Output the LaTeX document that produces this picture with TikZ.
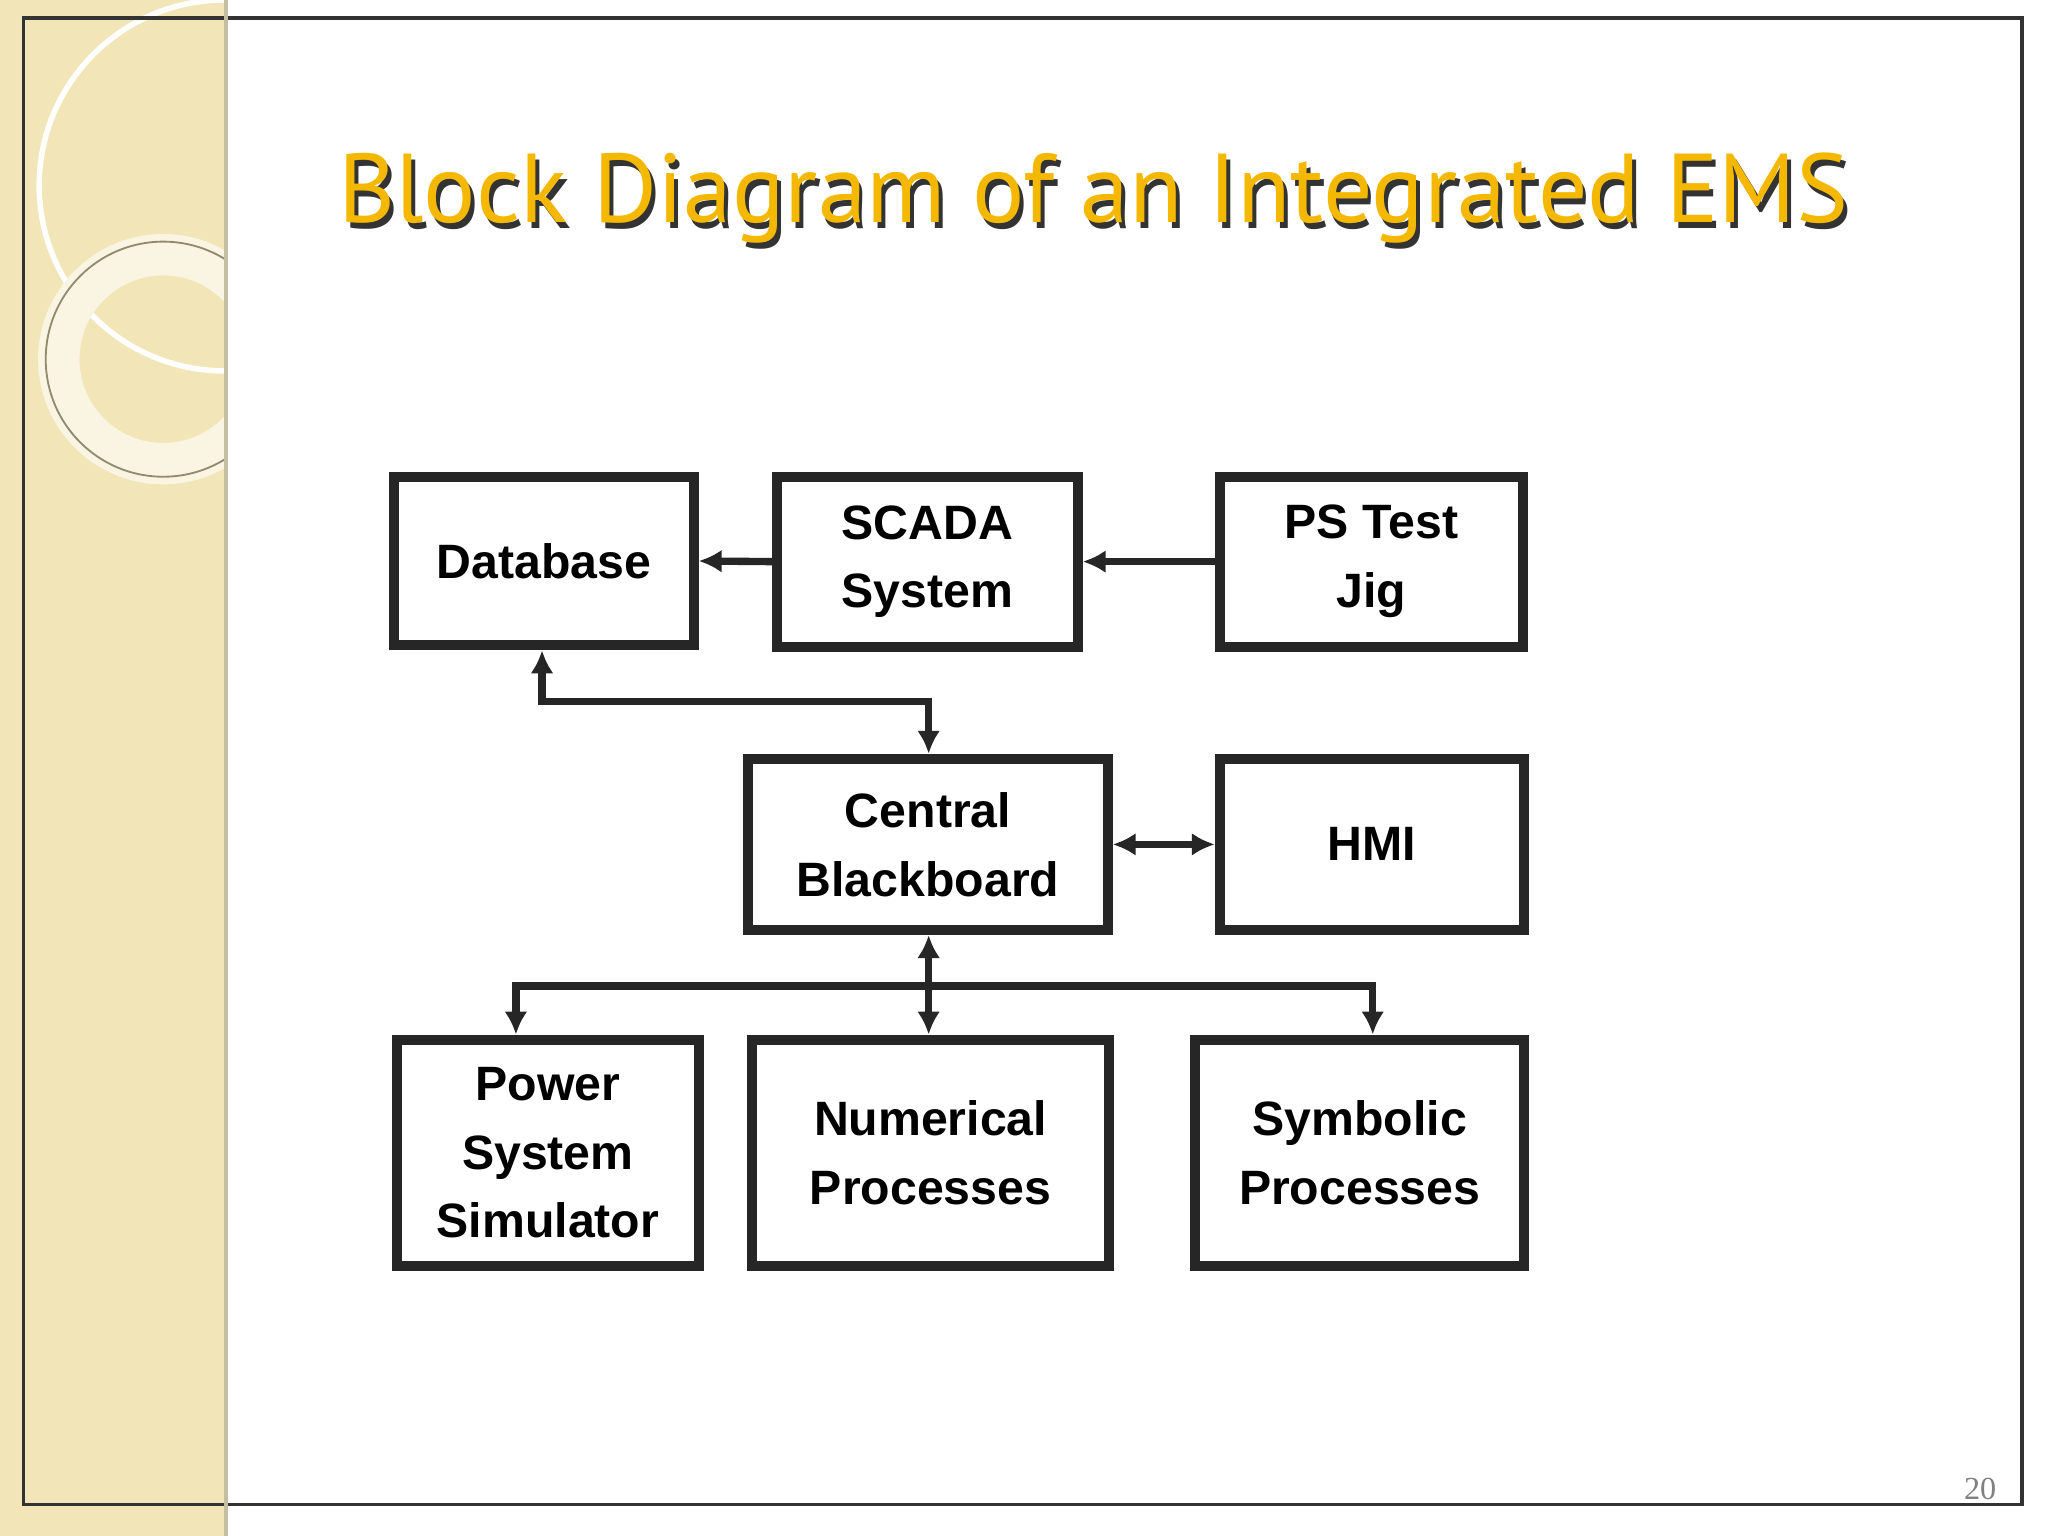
\documentclass[tikz,border=0pt]{standalone}
\usepackage{fontspec}
\setmainfont{Liberation Sans}
\newfontfamily\titlefont{PT Sans}
\newfontfamily\numfont{Liberation Serif}
\usetikzlibrary{arrows.meta}
\definecolor{beige}{HTML}{F2E6B8}
\definecolor{titleor}{HTML}{F5B800}
\begin{document}
\begin{tikzpicture}[x=0.01cm,y=-0.01cm,
  box/.style={draw=black!85,line width=2.2pt,align=center,font=\bfseries\fontsize{10.5pt}{15pt}\selectfont,inner sep=0pt},
  con/.style={line width=1.6pt,draw=black!85,-{Latex[length=5pt,width=5pt]}},
  dcon/.style={line width=1.6pt,draw=black!85,{Latex[length=5pt,width=5pt]}-{Latex[length=5pt,width=5pt]}}]
\useasboundingbox (0,0) rectangle (1568,1176);
\fill[white] (0,0) rectangle (1568,1176);
\fill[beige] (0,0) rectangle (173,1176);
\begin{scope}
\clip (0,0) rectangle (173,1176);
\draw[white,line width=1.2pt] (172,142) circle (142);
\draw[white!60!beige,line width=9pt] (125,275) circle (80);
\draw[black!40!beige,line width=0.4pt] (125,275) circle (90);
\end{scope}
\draw[black!80,line width=0.8pt] (1548,14) -- (18,14) -- (18,1152) -- (1548,1152) -- cycle;
\draw[beige!60!gray,line width=1pt] (173,0) -- (173,1176);
\node[text=black!80,font=\titlefont\fontsize{21.3pt}{24pt}\selectfont] at (840,156) {Block Diagram of an Integrated EMS};
\node (title) [text=titleor,font=\titlefont\fontsize{21.3pt}{24pt}\selectfont] at (837,152) {Block Diagram of an Integrated EMS};
\node (pg) [text=gray,font=\numfont\fontsize{7pt}{8pt}\selectfont] at (1516,1140) {20};

\node[box,minimum width=2.29cm,minimum height=1.29cm] (db) at (416.5,429.5) {Database};
\node[box,minimum width=2.30cm,minimum height=1.30cm] (sc) at (710,430) {SCADA\\System};
\node[box,minimum width=2.32cm,minimum height=1.30cm] (ps) at (1050,430) {PS Test\\Jig};
\node[box,minimum width=2.75cm,minimum height=1.31cm] (cb) at (710.5,646.5) {Central\\Blackboard};
\node[box,minimum width=2.33cm,minimum height=1.31cm] (hmi) at (1050.5,646.5) {HMI};
\node[box,minimum width=2.31cm,minimum height=1.73cm] (pss) at (419.5,882.5) {Power\\System\\Simulator};
\node[box,minimum width=2.73cm,minimum height=1.73cm] (np) at (712.5,882.5) {Numerical\\Processes};
\node[box,minimum width=2.52cm,minimum height=1.73cm] (sp) at (1041,882.5) {Symbolic\\Processes};

\draw[con] (sc.west) -- (db.east);
\draw[con] (ps.west) -- (sc.east);
\draw[dcon] (db.south -| 415,0) -- (415,537) -- (711,537) -- (cb.north -| 711,0);
\draw[dcon] (cb.east) -- (hmi.west);
\coordinate (bus) at (711,755);
\draw[con] (bus) -- (cb.south -| 711,0);
\draw[con] (bus) -- (np.north -| 711,0);
\draw[con] (bus) -- (395,755) -- (pss.north -| 395,0);
\draw[con] (bus) -- (1051,755) -- (sp.north -| 1051,0);
\end{tikzpicture}
\end{document}
